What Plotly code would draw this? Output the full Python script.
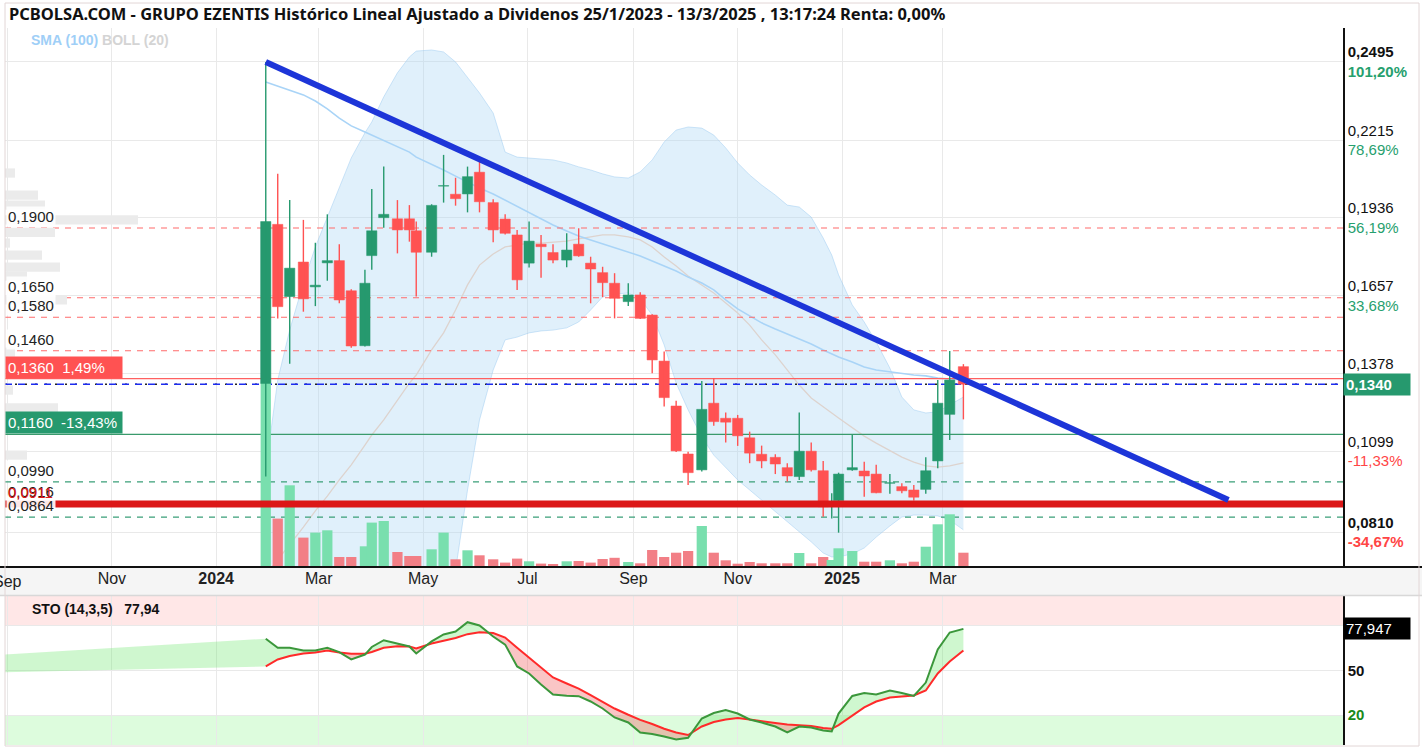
import pandas as pd
import plotly.graph_objects as go

# ---------------- DATA ----------------
dates = ["2024-01-30","2024-02-06","2024-02-13","2024-02-21","2024-02-28","2024-03-06","2024-03-13","2024-03-20","2024-03-28","2024-04-01",
         "2024-04-08","2024-04-16","2024-04-23","2024-04-27","2024-05-06","2024-05-13","2024-05-20","2024-05-27","2024-06-03","2024-06-11",
         "2024-06-18","2024-06-25","2024-07-02","2024-07-09","2024-07-16","2024-07-24","2024-07-31","2024-08-07","2024-08-14","2024-08-21",
         "2024-08-29","2024-09-05","2024-09-12","2024-09-19","2024-09-26","2024-10-03","2024-10-11","2024-10-18","2024-10-25","2024-11-01",
         "2024-11-08","2024-11-15","2024-11-23","2024-11-30","2024-12-07","2024-12-14","2024-12-21","2024-12-26","2024-12-30","2025-01-07",
         "2025-01-14","2025-01-21","2025-01-29","2025-02-05","2025-02-12","2025-02-19","2025-02-26","2025-03-05","2025-03-13"]

opens = [0.1343,0.1913,0.1654,0.1778,0.1689,0.1775,0.1783,0.1675,0.1478,0.1801,
         0.1937,0.1933,0.1933,0.1890,0.1813,0.2050,0.2021,0.2022,0.2100,0.1991,
         0.1932,0.1875,0.1774,0.1842,0.1812,0.1785,0.1842,0.1774,0.1740,0.1702,
         0.1636,0.1660,0.1588,0.1423,0.1262,0.1090,0.1033,0.1272,0.1218,0.1218,
         0.1148,0.1089,0.1078,0.1041,0.1009,0.1100,0.1030,0.0915,0.0923,0.1033,
         0.1029,0.1018,0.0985,0.0973,0.0961,0.0963,0.1065,0.1232,0.1403]
highs = [0.2495,0.2094,0.2000,0.1929,0.1847,0.1949,0.1842,0.1680,0.1750,0.2040,
         0.2120,0.2000,0.1982,0.1923,0.1985,0.2162,0.2080,0.2120,0.2138,0.2003,
         0.1949,0.1893,0.1923,0.1875,0.1842,0.1881,0.1899,0.1797,0.1761,0.1738,
         0.1702,0.1670,0.1591,0.1457,0.1281,0.1098,0.1352,0.1361,0.1239,0.1230,
         0.1170,0.1120,0.1089,0.1057,0.1239,0.1131,0.1065,0.0949,0.1023,0.1158,
         0.1062,0.1051,0.1018,0.0985,0.0979,0.1078,0.1355,0.1459,0.1412]
lows = [0.1009,0.1576,0.1413,0.1600,0.1620,0.1711,0.1630,0.1471,0.1475,0.1750,
        0.1901,0.1809,0.1851,0.1654,0.1797,0.1991,0.1980,0.1956,0.1956,0.1849,
        0.1877,0.1678,0.1758,0.1722,0.1774,0.1759,0.1797,0.1630,0.1652,0.1576,
        0.1620,0.1574,0.1379,0.1260,0.1097,0.0979,0.1027,0.1191,0.1131,0.1119,
        0.1057,0.1039,0.1018,0.0991,0.0997,0.1027,0.0865,0.0859,0.0808,0.1030,
        0.0937,0.0949,0.0947,0.0949,0.0923,0.0947,0.1039,0.1140,0.1214]
closes = [0.1923,0.1618,0.1756,0.1646,0.1695,0.1783,0.1642,0.1477,0.1702,0.1890,
          0.1949,0.1893,0.1893,0.1813,0.1981,0.2052,0.2005,0.2084,0.1994,0.1893,
          0.1881,0.1714,0.1853,0.1833,0.1785,0.1821,0.1800,0.1753,0.1704,0.1648,
          0.1660,0.1576,0.1427,0.1292,0.1101,0.1023,0.1250,0.1206,0.1204,0.1155,
          0.1093,0.1065,0.1054,0.1011,0.1100,0.1033,0.0901,0.0916,0.1018,0.1041,
          0.1011,0.0951,0.0986,0.0958,0.0935,0.1030,0.1272,0.1355,0.1340]
volumes = [18.4,4.84,8.17,2.94,3.44,3.67,1.0,1.0,2.07,4.44,
           4.6,1.5,1.1,1.1,1.77,3.44,0.77,1.67,1.17,0.77,
           0.44,0.84,0.57,0.34,0.3,0.57,0.6,0.44,0.8,0.92,
           0.5,0.37,1.7,1.0,1.43,1.6,4.1,1.43,0.67,0.33,
           0.5,0.37,0.37,0.37,1.4,0.37,1.0,0.7,1.87,1.6,
           0.53,0.53,0.67,0.37,0.53,2.03,4.27,5.27,1.43]

boll_upper = [0.1033,0.1355,0.1534,0.1703,0.1832,0.1939,0.2043,0.2151,0.2241,0.2280,
              0.2370,0.2456,0.2513,0.2534,0.2538,0.2531,0.2495,0.2441,0.2384,0.2312,
              0.2172,0.2154,0.2151,0.2147,0.2144,0.2133,0.2119,0.2108,0.2094,0.2083,
              0.2079,0.2101,0.2144,0.2208,0.2251,0.2262,0.2258,0.2233,0.2187,0.2133,
              0.2090,0.2054,0.2018,0.1982,0.1975,0.1939,0.1864,0.1803,0.1732,0.1624,
              0.1563,0.1491,0.1398,0.1294,0.1248,0.1237,0.1241,0.1266,0.1294]
boll_lower = [0.055,0.040,0.030,0.020,0.015,0.012,0.010,0.010,0.012,0.015,
              0.020,0.025,0.030,0.035,0.045,0.055,0.0674,0.0961,0.1212,0.1391,
              0.1499,0.1509,0.1524,0.1531,0.1534,0.1542,0.1563,0.1606,0.1653,0.1663,
              0.1667,0.1646,0.1588,0.1481,0.1344,0.1248,0.1151,0.1086,0.1040,0.0997,
              0.0961,0.0925,0.0882,0.0846,0.0810,0.0775,0.0735,0.0721,0.0721,0.0732,
              0.0753,0.0792,0.0832,0.0864,0.0871,0.0871,0.0868,0.0853,0.0818]
boll_mid = [0.0656,0.0710,0.0764,0.0828,0.0886,0.0939,0.0997,0.1051,0.1122,0.1158,
            0.1212,0.1284,0.1344,0.1373,0.1463,0.1524,0.1606,0.1696,0.1767,0.1807,
            0.1832,0.1839,0.1846,0.1846,0.1850,0.1853,0.1861,0.1868,0.1875,0.1875,
            0.1868,0.1857,0.1832,0.1796,0.1764,0.1728,0.1696,0.1667,0.1631,0.1595,
            0.1552,0.1499,0.1445,0.1391,0.1337,0.1291,0.1258,0.1237,0.1219,0.1183,
            0.1154,0.1129,0.1101,0.1079,0.1061,0.1047,0.1043,0.1047,0.1058]
sma100 = [0.2423,0.2409,0.2395,0.2377,0.2355,0.2327,0.2294,0.2266,0.2244,0.2233,
          0.2212,0.2190,0.2172,0.2154,0.2129,0.2108,0.2086,0.2065,0.2043,0.2022,
          0.2000,0.1975,0.1954,0.1932,0.1911,0.1889,0.1871,0.1857,0.1843,0.1828,
          0.1814,0.1800,0.1782,0.1764,0.1746,0.1724,0.1703,0.1678,0.1642,0.1610,
          0.1585,0.1560,0.1538,0.1520,0.1502,0.1484,0.1463,0.1448,0.1438,0.1420,
          0.1402,0.1391,0.1384,0.1380,0.1373,0.1370,0.1362,0.1359,0.1355]

sto_k = [71.3,65.2,65.2,63.4,63.4,65.2,62.3,57.4,60.7,65.8,
         70.3,68.1,66.1,61.4,69.5,74.2,76.2,82.4,80.2,72.8,
         67.4,52.7,48.0,40.6,33.9,33.0,32.8,29.2,24.5,18.5,
         15.1,8.4,7.4,5.7,3.7,4.8,17.8,21.5,23.4,21.1,
         17.1,15.1,12.4,8.4,12.4,11.7,9.7,9.1,21.1,32.9,
         34.9,33.9,36.6,34.9,32.9,41.9,64.1,75.5,77.95]
sto_d = [52.7,57.4,59.7,61.4,62.1,63.4,62.1,61.2,61.2,62.4,
         65.2,66.3,66.1,64.8,68.1,70.1,71.8,74.4,75.7,75.2,
         72.1,65.2,58.4,51.7,45.3,41.3,37.9,33.4,28.9,24.5,
         20.3,16.9,14.1,10.9,8.4,6.7,12.4,15.4,17.1,18.1,
         17.1,15.8,14.8,13.8,13.1,12.8,11.4,10.9,13.4,19.8,
         25.2,29.2,31.9,32.6,33.2,36.6,48.0,56.0,63.4]
sto_prev_date = "2023-08-30 12:00"
sto_prev_k = 60.7
sto_prev_d = 48.9

# volume-by-price profile on the left (price level, relative amount)
profile_price = [0.2097,0.2018,0.1982,0.1929,0.1884,0.1846,0.1803,0.1760,0.1728,0.1642,0.1455,0.1319,0.1255,0.1086]
profile_amount = [10,33,40,133,50,5,37,55,22,62,10,8,53,22]

# horizontal levels
red_dash_levels = [0.1900, 0.1650, 0.1580, 0.1460]
red_dash_labels = ["0,1900", "0,1650", "0,1580", "0,1460"]
green_dash_levels = [0.0990, 0.0864]
green_dash_labels = ["0,0990", "0,0864"]
red_solid_level = 0.1360
red_solid_label = "0,1360\u00a0\u00a01,49%"
green_solid_level = 0.1160
green_solid_label = "0,1160\u00a0\u00a0-13,43%"
last_price = 0.1340
last_price_label = "0,1340"
support_level = 0.0911
support_labels = [("0,0916", 0.0916, "#222222"), ("0,0911", 0.0911, "#e01818")]

trend_dates = ["2024-01-30", "2025-08-15"]
trend_values = [0.2495, 0.0925]

ytick_vals = [0.2495, 0.2215, 0.1936, 0.1657, 0.1378, 0.1099, 0.0810]
ytick_price = ["0,2495", "0,2215", "0,1936", "0,1657", "0,1378", "0,1099", "0,0810"]
ytick_pct = ["101,20%", "78,69%", "56,19%", "33,68%", "11,17%", "-11,33%", "-34,67%"]

xtick_dates = ["2023-09-01", "2023-11-01", "2024-01-01", "2024-03-01", "2024-05-01", "2024-07-01",
               "2024-09-01", "2024-11-01", "2025-01-01", "2025-03-01"]
xtick_text = ["Sep", "Nov", "<b>2024</b>", "Mar", "May", "Jul", "Sep", "Nov", "<b>2025</b>", "Mar"]

title_text = "PCBOLSA.COM - GRUPO EZENTIS Histórico Lineal Ajustado a Dividenos 25/1/2023 - 13/3/2025 , 13:17:24 Renta: 0,00%"

# ---------------- STYLE ----------------
FONT = "Liberation Sans, Arial, sans-serif"
GREEN = "#26996e"
RED = "#ff5252"
VGREEN = "#79dfae"
VRED = "#f27f86"
W, H = 1422, 749
ML, MR, MT, MB = 5, 79, 28, 4
PW, PH = W - ML - MR, H - MT - MB

x_start = pd.Timestamp("2023-08-30 12:00")
x_end = pd.Timestamp("2025-10-21")
y_main_range = [0.06849, 0.26168]

df = pd.DataFrame(dict(date=pd.to_datetime(dates), o=opens, h=highs, l=lows, c=closes, v=volumes))
up = df.c >= df.o
DAY_MS = 86400000
bar_w = 6.0 * DAY_MS

fig = go.Figure()

# volume profile (horizontal bars)
fig.add_trace(go.Bar(y=profile_price, x=profile_amount, orientation="h", xaxis="x3", yaxis="y",
                     width=0.0033, opacity=1, marker=dict(color="#ebebeb", line=dict(width=0)), hoverinfo="skip"))

# Bollinger band (base layer)
fig.add_trace(go.Scatter(x=df.date, y=boll_upper, mode="lines",
                         line=dict(color="rgba(150,200,240,0.45)", width=1), hoverinfo="skip"))
fig.add_trace(go.Scatter(x=df.date, y=boll_lower, mode="lines", fill="tonexty",
                         fillcolor="rgba(173,216,245,0.38)",
                         line=dict(color="rgba(150,200,240,0.45)", width=1), hoverinfo="skip"))

# BOLL middle & SMA
fig.add_trace(go.Scatter(x=df.date, y=boll_mid, mode="lines", line=dict(color="#ddd3ce", width=1.3), hoverinfo="skip"))
fig.add_trace(go.Scatter(x=df.date, y=sma100, mode="lines", line=dict(color="#a9d4f7", width=1.6), hoverinfo="skip"))

# horizontal level lines
for lv in red_dash_levels:
    fig.add_trace(go.Scatter(x=[x_start, x_end], y=[lv, lv], mode="lines",
                             line=dict(color="#ff6b6b", width=1.2, dash="6px,6px"), hoverinfo="skip"))
for lv in green_dash_levels:
    fig.add_trace(go.Scatter(x=[x_start, x_end], y=[lv, lv], mode="lines",
                             line=dict(color="#3a9f78", width=1.2, dash="6px,6px"), hoverinfo="skip"))
fig.add_trace(go.Scatter(x=[x_start, x_end], y=[red_solid_level] * 2, mode="lines",
                         line=dict(color="#ff6060", width=1.2), hoverinfo="skip"))
fig.add_trace(go.Scatter(x=[x_start, x_end], y=[green_solid_level] * 2, mode="lines",
                         line=dict(color="#3a9a6c", width=1.2), hoverinfo="skip"))
fig.add_trace(go.Scatter(x=[x_start, x_end], y=[last_price] * 2, mode="lines",
                         line=dict(color="#222222", width=1.3, dash="2px,8px"), hoverinfo="skip"))
fig.add_trace(go.Scatter(x=[x_start, x_end], y=[last_price] * 2, mode="lines",
                         line=dict(color="#1c2cf0", width=1.5, dash="7px,3px,0px,3px"), hoverinfo="skip"))

# volume (overlay axis, drawn above the band)
fig.add_trace(go.Bar(x=df.date, y=df.v, yaxis="y3", width=bar_w, opacity=1,
                     marker=dict(color=[VGREEN if u else VRED for u in up], line=dict(width=0)),
                     hoverinfo="skip"))

# candles on an overlaid price axis so they sit above band and level lines
for is_up, col in [(True, GREEN), (False, RED)]:
    sub = df[up == is_up]
    body_base = [min(o, c) for o, c in zip(sub.o, sub.c)]
    body_h = [max(abs(c - o), 0.0002) for o, c in zip(sub.o, sub.c)]
    fig.add_trace(go.Bar(x=sub.date, y=body_h, base=body_base, width=bar_w, opacity=1, yaxis="y4",
                         marker=dict(color=col, line=dict(color=col, width=0.5)), hoverinfo="skip"))
for is_up, col in [(True, GREEN), (False, RED)]:
    sub = df[up == is_up]
    wx, wy = [], []
    for d, lo, hi in zip(sub.date, sub.l, sub.h):
        wx += [d, d, None]
        wy += [lo, hi, None]
    fig.add_trace(go.Scatter(x=wx, y=wy, mode="lines", yaxis="y4",
                             line=dict(color=col, width=1.4), hoverinfo="skip"))

# support line & trendline
fig.add_trace(go.Scatter(x=[x_start, x_end], y=[support_level] * 2, mode="lines", yaxis="y4",
                         line=dict(color="#dc1717", width=7), hoverinfo="skip"))
fig.add_trace(go.Scatter(x=pd.to_datetime(trend_dates), y=trend_values, mode="lines", yaxis="y4",
                         line=dict(color="#1d35d8", width=6), hoverinfo="skip"))

# ---------------- STOCHASTIC ----------------
kx = [pd.Timestamp(sto_prev_date)] + list(df.date)
kk = [sto_prev_k] + sto_k
dd = [sto_prev_d] + sto_d
gx, gy, rx, ry = [], [], [], []
ms = [t.value / 1e6 for t in kx]
for i in range(len(ms) - 1):
    x0, x1 = ms[i], ms[i + 1]
    k0, k1, d0, d1 = kk[i], kk[i + 1], dd[i], dd[i + 1]
    s0, s1 = k0 - d0, k1 - d1
    if s0 * s1 >= 0:
        polys = [((x0, x1, x1, x0, x0), (k0, k1, d1, d0, k0), (s0 + s1) >= 0)]
    else:
        t = s0 / (s0 - s1)
        xc = x0 + t * (x1 - x0)
        yc = k0 + t * (k1 - k0)
        polys = [((x0, xc, x0, x0), (k0, yc, d0, k0), s0 > 0),
                 ((xc, x1, x1, xc), (yc, k1, d1, yc), s1 > 0)]
    for px, py, pos in polys:
        tx = list(pd.to_datetime(list(px), unit="ms"))
        if pos:
            gx += tx + [None]; gy += list(py) + [None]
        else:
            rx += tx + [None]; ry += list(py) + [None]
fig.add_trace(go.Scatter(x=gx, y=gy, xaxis="x2", yaxis="y2", mode="lines", fill="toself",
                         fillcolor="rgba(110,230,110,0.33)", line=dict(width=0), hoverinfo="skip"))
fig.add_trace(go.Scatter(x=rx, y=ry, xaxis="x2", yaxis="y2", mode="lines", fill="toself",
                         fillcolor="rgba(240,90,90,0.35)", line=dict(width=0), hoverinfo="skip"))
fig.add_trace(go.Scatter(x=df.date, y=sto_d, xaxis="x2", yaxis="y2", mode="lines",
                         line=dict(color="#ff2a2a", width=2), hoverinfo="skip"))
fig.add_trace(go.Scatter(x=df.date, y=sto_k, xaxis="x2", yaxis="y2", mode="lines",
                         line=dict(color="#3b973b", width=2), hoverinfo="skip"))

# ---------------- LAYOUT ----------------
main_dom = [(H - MB - 567) / PH, 1.0]
sto_dom = [0.0, (H - MB - 596) / PH]

def ytick(i):
    pct = ytick_pct[i]
    col = "#26a06e" if not pct.startswith("-") else "#ff4545"
    if i in (0, len(ytick_vals) - 1):
        return f"<b>{ytick_price[i]}</b><br><span style='color:{col}'><b>{pct}</b></span>"
    return f"{ytick_price[i]}<br><span style='color:{col}'>{pct}</span>"

grid = "#e9e9e9"
fig.update_layout(
    width=W, height=H, margin=dict(l=ML, r=MR, t=MT, b=MB),
    paper_bgcolor="white", plot_bgcolor="white", showlegend=False, hovermode=False,
    barmode="overlay", font=dict(family=FONT, size=15, color="#111111"),
    xaxis=dict(type="date", range=[x_start, x_end], domain=[0, 1], anchor="y",
               tickvals=pd.to_datetime(xtick_dates), ticktext=xtick_text, ticks="",
               tickfont=dict(size=16, color="#222222"), showgrid=True, gridcolor=grid,
               zeroline=False, showline=False),
    xaxis2=dict(type="date", matches="x", anchor="y2", domain=[0, 1],
                tickvals=pd.to_datetime(xtick_dates), showticklabels=False, ticks="",
                showgrid=True, gridcolor=grid, zeroline=False),
    xaxis3=dict(overlaying="x", anchor="y", range=[0, PW], visible=False),
    yaxis=dict(domain=main_dom, range=y_main_range, side="right", anchor="x",
               tickvals=ytick_vals, ticktext=[ytick(i) for i in range(len(ytick_vals))],
               ticks="", tickfont=dict(size=15, color="#111111"), showgrid=True, gridcolor=grid,
               zeroline=False, showline=True, linecolor="#111111", linewidth=1.5),
    yaxis2=dict(domain=sto_dom, range=[0, 100], side="right", anchor="x2",
                tickvals=[20, 50, 80],
                ticktext=["<span style='color:#1a8a1a'><b>20</b></span>", "<b>50</b>", ""],
                ticks="", tickfont=dict(size=15, color="#111111"), showgrid=True, gridcolor=grid,
                zeroline=False, showline=True, linecolor="#111111", linewidth=1.5),
    yaxis3=dict(overlaying="y", range=[0, 53.9], visible=False),
    yaxis4=dict(overlaying="y", range=y_main_range, visible=False),
)

px2x = lambda px: (px - ML) / PW
py2y = lambda py: (H - MB - py) / PH

shapes = [
    dict(type="rect", xref="paper", yref="paper", x0=px2x(0), x1=px2x(W), y0=py2y(595), y1=py2y(567),
         fillcolor="#f5f5f5", line=dict(width=0), layer="below"),
    dict(type="line", xref="paper", yref="paper", x0=px2x(0), x1=px2x(W), y0=py2y(567), y1=py2y(567),
         line=dict(color="#111111", width=2), layer="above"),
    dict(type="line", xref="paper", yref="paper", x0=px2x(0), x1=px2x(W), y0=py2y(595.5), y1=py2y(595.5),
         line=dict(color="#d8d8d8", width=1.5), layer="above"),
    dict(type="rect", xref="paper", yref="y2", x0=0, x1=1, y0=80, y1=100,
         fillcolor="#ffe7e7", line=dict(width=0), layer="below"),
    dict(type="rect", xref="paper", yref="y2", x0=0, x1=1, y0=0, y1=20,
         fillcolor="#ddfcdd", line=dict(width=0), layer="below"),
    dict(type="rect", xref="paper", yref="paper", x0=px2x(5), x1=px2x(1419), y0=py2y(746), y1=py2y(3),
         line=dict(color="#e2d6d6", width=1), fillcolor="rgba(0,0,0,0)", layer="above"),
]
fig.update_layout(shapes=shapes)

ann = []
ann.append(dict(text=f"<b>{title_text}</b>", xref="paper", yref="paper", x=px2x(7), y=py2y(27),
                xanchor="left", yanchor="bottom", showarrow=False,
                font=dict(family="Noto Sans, " + FONT, size=16.5, color="#111111")))
ann.append(dict(text="<span style='color:#9fcff7'><b>SMA (100)</b></span> <span style='color:#d4d4d4'><b>BOLL (20)</b></span>",
                xref="paper", yref="paper", x=px2x(29), y=py2y(40), xanchor="left", yanchor="middle",
                showarrow=False, font=dict(size=14)))
ann.append(dict(text="<b>STO (14,3,5)\u00a0\u00a0\u00a077,94</b>", xref="paper", yref="paper",
                x=px2x(30), y=py2y(609), xanchor="left", yanchor="middle", showarrow=False,
                font=dict(size=14, color="#111111")))
# first month label, cut by the left edge as in the reference
ann.append(dict(text=xtick_text[0], xref="x", yref="paper", x=pd.Timestamp(xtick_dates[0]), y=py2y(581),
                xanchor="center", yanchor="middle", showarrow=False, font=dict(size=16, color="#222222")))
for lv, lb in zip(red_dash_levels + green_dash_levels, red_dash_labels + green_dash_labels):
    ann.append(dict(text=lb, xref="paper", yref="y", x=0, y=lv, xanchor="left", yanchor="bottom",
                    xshift=1, yshift=1, showarrow=False, bgcolor="rgba(255,255,255,0.9)",
                    font=dict(size=15, color="#222222"), borderpad=1))
for lb, lv, col in support_labels:
    ann.append(dict(text=lb, xref="paper", yref="y", x=0, y=lv, xanchor="left", yanchor="bottom",
                    xshift=1, yshift=1, showarrow=False, font=dict(size=15, color=col), borderpad=1))
ann.append(dict(text=red_solid_label, xref="paper", yref="y", x=0, y=red_solid_level, xanchor="left",
                yanchor="bottom", showarrow=False, bgcolor="#ff5252", width=112, align="left",
                font=dict(size=15, color="white"), borderpad=2))
ann.append(dict(text=green_solid_label, xref="paper", yref="y", x=0, y=green_solid_level, xanchor="left",
                yanchor="bottom", showarrow=False, bgcolor=GREEN, width=112, align="left",
                font=dict(size=15, color="white"), borderpad=2))
ann.append(dict(text=f"<b>{last_price_label}</b>", xref="paper", yref="y", x=1, y=last_price,
                xanchor="left", yanchor="middle", showarrow=False, bgcolor=GREEN, width=62, align="left",
                font=dict(size=15, color="white"), borderpad=2))
ann.append(dict(text="77,947", xref="paper", yref="y2", x=1, y=sto_k[-1], xanchor="left", yanchor="middle",
                showarrow=False, bgcolor="#000000", width=62, align="left",
                font=dict(size=15, color="white"), borderpad=2))
fig.update_layout(annotations=ann)

fig.write_html("out.html", config={"displayModeBar": False})
